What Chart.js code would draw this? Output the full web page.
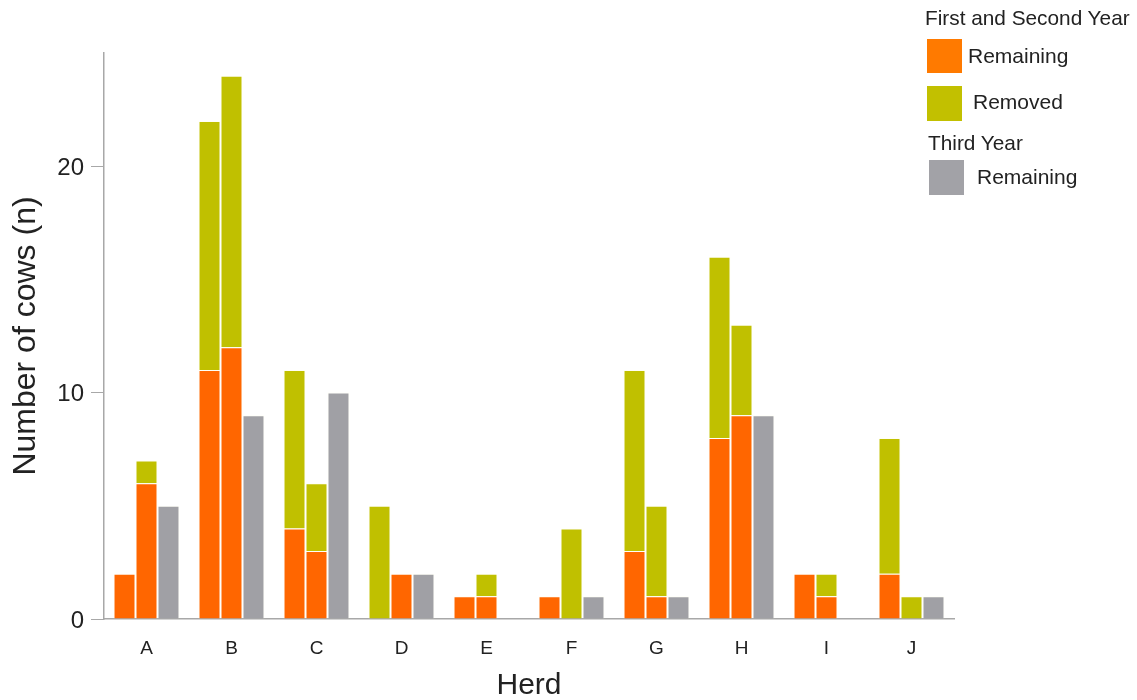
<!DOCTYPE html>
<html>
<head>
<meta charset="utf-8">
<script src="https://cdn.jsdelivr.net/npm/chart.js@4"></script>
<style>
  html, body { margin: 0; padding: 0; background: #fff; }
  #wrap { position: relative; width: 1137px; height: 700px; font-family: "Liberation Sans", Arial, sans-serif; color: #222; }
  canvas { position: absolute; left: 0; top: 0; }
  .lg { position: absolute; white-space: nowrap; }
  .ttl { font-size: 20.8px; }
  .item { font-size: 21px; }
  .box { position: absolute; }
</style>
</head>
<body>
<div id="wrap">
  <canvas id="c" width="1137" height="700"></canvas>
  <div class="lg ttl" style="left:925px; top:6px;">First and Second Year</div>
  <div class="box" style="left:927px; top:39px; width:35px; height:34px; background:#ff7a00;"></div>
  <div class="lg item" style="left:968px; top:44px;">Remaining</div>
  <div class="box" style="left:927px; top:86px; width:35px; height:35px; background:#c2c000;"></div>
  <div class="lg item" style="left:973px; top:90px;">Removed</div>
  <div class="lg ttl" style="left:928px; top:131px;">Third Year</div>
  <div class="box" style="left:929px; top:160px; width:35px; height:35px; background:#a2a2a7;"></div>
  <div class="lg item" style="left:977px; top:165px;">Remaining</div>
</div>
<script>
const herds = ["A", "B", "C", "D", "E", "F", "G", "H", "I", "J"];
const year12RemainingFirst = [2, 11, 4, 0, 1, 1, 3, 8, 2, 2];
const year12RemovedFirst   = [0, 11, 7, 5, 0, 0, 8, 8, 0, 6];
const year12RemainingSecond = [6, 12, 3, 2, 1, 0, 1, 9, 1, 0];
const year12RemovedSecond   = [1, 12, 3, 0, 1, 4, 4, 4, 1, 1];
const year3Remaining = [5, 9, 10, 2, 0, 1, 1, 9, 0, 1];
const yTicks = [0, 10, 20];

const ORANGE = "#ff6600";
const YELLOW = "#c0c000";
const GRAY = "#a0a0a5";
const BORDER = "rgba(255,255,235,0.45)";

function ds(label, data, color, stack) {
  return { label, data, backgroundColor: color, borderColor: BORDER, borderWidth: 1, stack,
           barPercentage: 1.0, categoryPercentage: 0.776 };
}

new Chart(document.getElementById("c"), {
  type: "bar",
  data: {
    labels: herds,
    datasets: [
      ds("Remaining (1st)", year12RemainingFirst, ORANGE, "y1"),
      ds("Removed (1st)", year12RemovedFirst, YELLOW, "y1"),
      ds("Remaining (2nd)", year12RemainingSecond, ORANGE, "y2"),
      ds("Removed (2nd)", year12RemovedSecond, YELLOW, "y2"),
      ds("Remaining (3rd)", year3Remaining, GRAY, "y3")
    ]
  },
  options: {
    responsive: false,
    animation: false,
    layout: { padding: { top: 53, right: 183, left: 0, bottom: 0 } },
    plugins: { legend: { display: false }, tooltip: { enabled: false } },
    scales: {
      x: {
        stacked: true,
        grid: { display: false, drawTicks: false },
        border: { display: true, color: "#a8a8a8", width: 1.5 },
        ticks: { color: "#222", font: { family: "Liberation Sans", size: 19 }, padding: 18 },
        title: { display: true, text: "Herd", color: "#222", font: { family: "Liberation Sans", size: 30, lineHeight: 0.95 }, padding: { top: 0, bottom: 0 } },
        afterFit: (s) => { s.height = 81; }
      },
      y: {
        stacked: true,
        min: 0, max: 25,
        afterBuildTicks: (s) => { s.ticks = yTicks.map(v => ({ value: v })); },
        grid: { display: true, drawOnChartArea: false, drawTicks: true, tickLength: 13, color: "#a8a8a8" },
        border: { display: true, color: "#a8a8a8", width: 1.5 },
        ticks: { color: "#222", font: { family: "Liberation Sans", size: 24 }, padding: 7, labelOffset: 2 },
        title: { display: true, text: "Number of cows (n)", color: "#222", font: { family: "Liberation Sans", size: 32 }, padding: { top: 7, bottom: 0 } },
        afterFit: (s) => { s.width = 104; }
      }
    }
  }
});
</script>
</body>
</html>
